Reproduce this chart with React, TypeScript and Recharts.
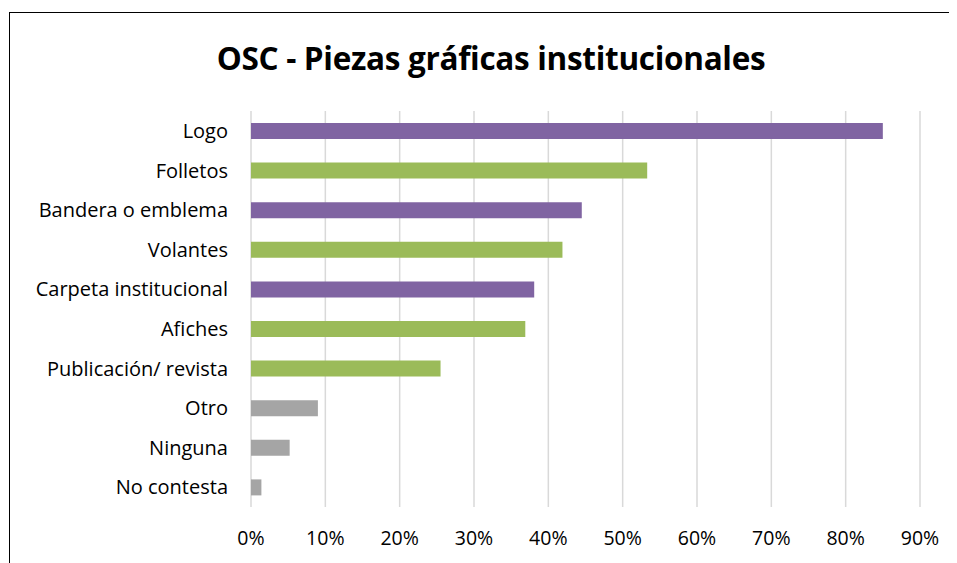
import { BarChart, Bar, XAxis, YAxis, CartesianGrid, Cell } from "recharts";

const categories = [
  "Logo",
  "Folletos",
  "Bandera o emblema",
  "Volantes",
  "Carpeta institucional",
  "Afiches",
  "Publicación/ revista",
  "Otro",
  "Ninguna",
  "No contesta",
];
const values = [85, 53.3, 44.5, 41.9, 38.1, 36.9, 25.5, 9.0, 5.2, 1.4];
const barColors = [
  "#8064A2",
  "#9BBB59",
  "#8064A2",
  "#9BBB59",
  "#8064A2",
  "#9BBB59",
  "#9BBB59",
  "#A5A5A5",
  "#A5A5A5",
  "#A5A5A5",
];
const xTicks = [0, 10, 20, 30, 40, 50, 60, 70, 80, 90];

const data = categories.map((name, i) => ({ name, value: values[i] }));

const font = "'Open Sans', sans-serif";

export default function App() {
  return (
    <div
      style={{
        position: "relative",
        width: 948,
        height: 560,
        borderTop: "1px solid #000",
        borderLeft: "1px solid #000",
        marginLeft: 1,
        marginTop: 4,
        background: "#fff",
        fontFamily: font,
      }}
    >
      <div
        style={{
          position: "absolute",
          left: 0,
          width: 962,
          top: 23,
          textAlign: "center",
          fontSize: 31.5,
          fontWeight: 700,
          color: "#000",
          letterSpacing: -0.3,
        }}
      >
        OSC - Piezas gráficas institucionales
      </div>
      <BarChart
        width={948}
        height={550}
        data={data}
        layout="vertical"
        margin={{ top: 98, right: 38, left: 0, bottom: 26 }}
      >
        <CartesianGrid horizontal={false} stroke="#D9D9D9" strokeWidth={1.5} />
        <XAxis
          type="number"
          domain={[0, 90]}
          ticks={xTicks}
          tickFormatter={(v: number) => `${v}%`}
          axisLine={false}
          tickLine={false}
          tick={{ fill: "#000", fontSize: 19.5, fontFamily: font }}
          tickMargin={18}
          height={30}
        />
        <YAxis
          type="category"
          dataKey="name"
          width={241}
          axisLine={false}
          tickLine={false}
          tick={{ fill: "#000", fontSize: 20, fontFamily: font }}
          tickMargin={17}
          interval={0}
        />
        <Bar dataKey="value" barSize={16} isAnimationActive={false}>
          {data.map((d, i) => (
            <Cell key={d.name} fill={barColors[i]} />
          ))}
        </Bar>
      </BarChart>
    </div>
  );
}
